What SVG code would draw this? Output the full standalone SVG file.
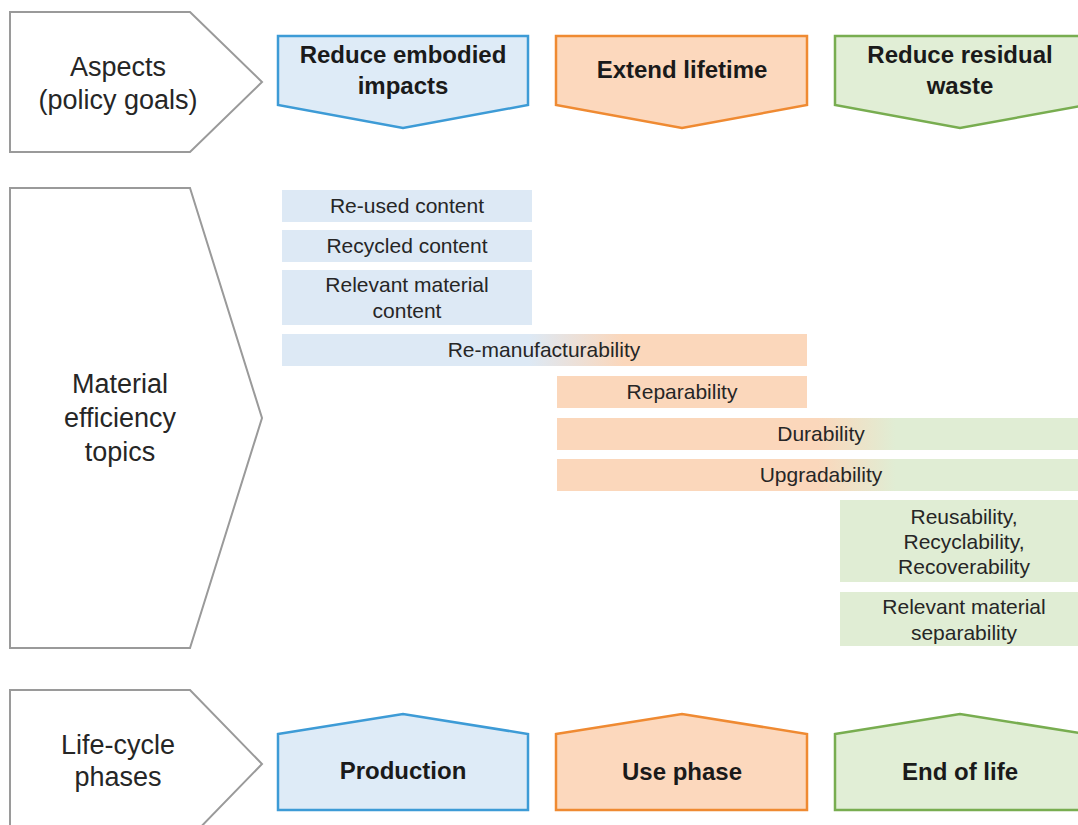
<svg xmlns="http://www.w3.org/2000/svg" width="1078" height="825" viewBox="0 0 1078 825">
<style>
.lbl{font-family:"Liberation Sans",Arial,sans-serif;font-size:27px;fill:#262626;text-anchor:middle}
.hd{font-family:"Liberation Sans",Arial,sans-serif;font-size:24px;font-weight:bold;fill:#1a1a1a;text-anchor:middle}
.bt{font-family:"Liberation Sans",Arial,sans-serif;font-size:21px;fill:#262626;text-anchor:middle}
.gray{fill:#ffffff;stroke:#9a9a9a;stroke-width:2}
.blue{fill:#deebf7;stroke:#3d9bd6;stroke-width:2.5}
.orange{fill:#fcd8bd;stroke:#ef8a32;stroke-width:2.5}
.green{fill:#e1eed6;stroke:#78ad50;stroke-width:2.5}
.bb{fill:#dde9f5}
.bo{fill:#fbd7bb}
.bg{fill:#e0edd4}
</style>
<defs>
<linearGradient id="gBO" x1="0" y1="0" x2="1" y2="0">
<stop offset="0.47" stop-color="#dde9f5"/>
<stop offset="0.65" stop-color="#fbd7bb"/>
</linearGradient>
<linearGradient id="gOG" x1="0" y1="0" x2="1" y2="0">
<stop offset="0.5" stop-color="#fbd7bb"/>
<stop offset="0.65" stop-color="#e0edd4"/>
</linearGradient>
</defs>
<rect width="1078" height="825" fill="#ffffff"/>

<g id="aspects">
<polygon class="gray" points="10,12 190,12 262,82 190,152 10,152"/>
<text class="lbl" x="118" y="76">Aspects</text>
<text class="lbl" x="118" y="109">(policy goals)</text>
</g>
<g id="reduce-embodied">
<polygon class="blue" points="278,36 528,36 528,105 403,128 278,105"/>
<text class="hd" x="403" y="63">Reduce embodied</text>
<text class="hd" x="403" y="94">impacts</text>
</g>
<g id="extend-lifetime">
<polygon class="orange" points="556,36 807,36 807,105 682,128 556,105"/>
<text class="hd" x="682" y="78">Extend lifetime</text>
</g>
<g id="reduce-residual">
<polygon class="green" points="835,36 1086,36 1086,105 960,128 835,105"/>
<text class="hd" x="960" y="63">Reduce residual</text>
<text class="hd" x="960" y="94">waste</text>
</g>

<g id="material-topics">
<polygon class="gray" points="10,188 190,188 262,418 190,648 10,648"/>
<text class="lbl" x="120" y="393">Material</text>
<text class="lbl" x="120" y="427">efficiency</text>
<text class="lbl" x="120" y="461">topics</text>
</g>

<g id="reused">
<rect class="bb" x="282" y="190" width="250" height="32"/>
<text class="bt" x="407" y="213">Re-used content</text>
</g>
<g id="recycled">
<rect class="bb" x="282" y="230" width="250" height="32"/>
<text class="bt" x="407" y="253">Recycled content</text>
</g>
<g id="relevant-content">
<rect class="bb" x="282" y="270" width="250" height="55"/>
<text class="bt" x="407" y="292">Relevant material</text>
<text class="bt" x="407" y="318">content</text>
</g>
<g id="remanufacturability">
<rect x="282" y="334" width="525" height="32" fill="url(#gBO)"/>
<text class="bt" x="544" y="357">Re-manufacturability</text>
</g>
<g id="reparability">
<rect class="bo" x="557" y="376" width="250" height="32"/>
<text class="bt" x="682" y="399">Reparability</text>
</g>
<g id="durability">
<rect x="557" y="418" width="521" height="32" fill="url(#gOG)"/>
<text class="bt" x="821" y="441">Durability</text>
</g>
<g id="upgradability">
<rect x="557" y="459" width="521" height="32" fill="url(#gOG)"/>
<text class="bt" x="821" y="482">Upgradability</text>
</g>
<g id="reusability">
<rect class="bg" x="840" y="500" width="238" height="82"/>
<text class="bt" x="964" y="524">Reusability,</text>
<text class="bt" x="964" y="549">Recyclability,</text>
<text class="bt" x="964" y="574">Recoverability</text>
</g>
<g id="separability">
<rect class="bg" x="840" y="592" width="238" height="54"/>
<text class="bt" x="964" y="614">Relevant material</text>
<text class="bt" x="964" y="640">separability</text>
</g>

<g id="lifecycle">
<polygon class="gray" points="10,690 190,690 262,764 190,838 10,838"/>
<text class="lbl" x="118" y="754">Life-cycle</text>
<text class="lbl" x="118" y="786">phases</text>
</g>
<g id="production">
<polygon class="blue" points="278,734 403,714 528,734 528,810 278,810"/>
<text class="hd" x="403" y="779">Production</text>
</g>
<g id="use-phase">
<polygon class="orange" points="556,734 682,714 807,734 807,810 556,810"/>
<text class="hd" x="682" y="780">Use phase</text>
</g>
<g id="end-of-life">
<polygon class="green" points="835,734 960,714 1086,734 1086,810 835,810"/>
<text class="hd" x="960" y="780">End of life</text>
</g>

<g id="connectors"></g>
</svg>
